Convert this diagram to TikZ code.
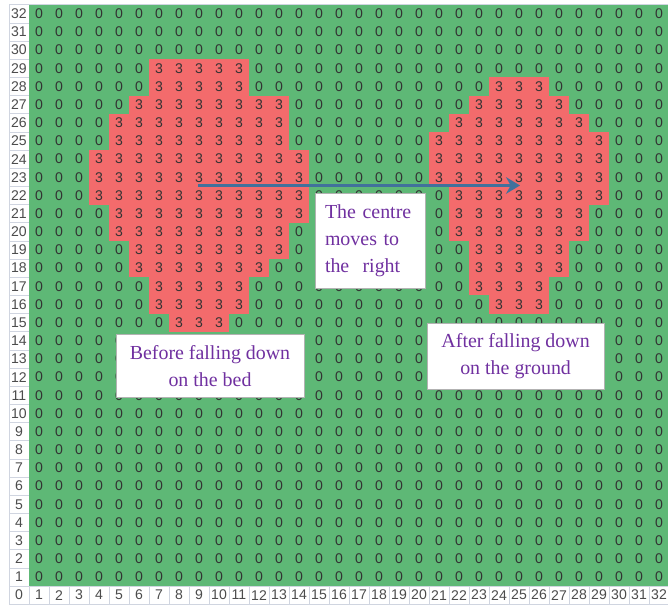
\documentclass[tikz,border=0pt]{standalone}
\usepackage{fontspec}
\setmainfont{Liberation Serif}
\setsansfont{Liberation Sans}
\usepackage{xcolor}
\usepackage{tikz}
\usetikzlibrary{arrows.meta}

\definecolor{cellgreen}{RGB}{94,184,118}
\definecolor{cellred}{RGB}{243,107,108}
\definecolor{gridgrey}{RGB}{208,213,224}
\definecolor{notepurple}{RGB}{112,48,160}
\definecolor{shiftblue}{RGB}{65,113,156}

\begin{document}
\begin{tikzpicture}[
    x=0.6cm, y=0.545cm,
    font=\sffamily,
    value/.style={font=\sffamily\fontsize{12}{12}\selectfont, text=black!80, inner sep=0pt},
    axislabel/.style={value, text=black!70},
    axiscell/.style={draw=gridgrey, fill=white, line width=0.5pt},
    note/.style={draw=black!30, fill=white, line width=0.6pt, text=notepurple,
                 font=\rmfamily\fontsize{17}{23}\selectfont, inner sep=0pt, align=center},
    move/.style={-{Stealth[length=4.2mm, width=5mm, inset=1.4mm]}, line width=2.4pt, shiftblue},
  ]
  \useasboundingbox (-0.45,-0.33) rectangle (32.95,33.26);

  % ---------------- Axis cells ----------------
  \foreach \r in {0,...,32} {
    \draw[axiscell] (0,\r) rectangle (1,\r+1);
    \node[axislabel] (y\r) at (0.5,\r+0.5) {\r};
  }
  \foreach \c in {1,...,32} {
    \draw[axiscell] (\c,0) rectangle (\c+1,1);
    \node[axislabel] (x\c) at (\c+0.5,0.5) {\c};
  }
  \draw[gridgrey, line width=0.5pt] (0,33) -- (33,33);

  % ---------------- Grid values ----------------
  \fill[cellgreen] (1,1) rectangle (33,33);
  \foreach \c in {1,...,32}
    \foreach \r in {1,...,32}
      \node[value] (v-\c-\r) at (\c+0.5,\r+0.5) {0};

  % ---------------- Occupied cells (before / after) ----------------
  \foreach \r/\a/\b in {29/7/11, 28/7/11, 27/6/13, 26/5/13, 25/5/13, 24/4/14, 23/4/14, 22/4/14,
                        21/5/14, 20/5/13, 19/6/13, 18/6/12, 17/7/11, 16/7/11, 15/8/10,
                        28/24/26, 27/23/27, 26/22/28, 25/21/29, 24/21/29, 23/21/29, 22/22/29,
                        21/22/28, 20/22/28, 19/23/27, 18/23/27, 17/23/26, 16/24/26} {
    \fill[cellred] (\a,\r) rectangle (\b+1,\r+1);
    \foreach \c in {\a,...,\b}
      \node[value] (v-\c-\r) at (\c+0.5,\r+0.5) {3};
  }

  % ---------------- Centre shift ----------------
  \coordinate (before) at (9.45,23.05);
  \coordinate (after)  at (25.55,23.05);
  \draw[move] (before) -- (after);

  % ---------------- Notes ----------------
  \node[note, align=left, text width=2.7cm, minimum width=3.3cm, minimum height=2.85cm]
    (shift) at (18.05,20.0) {The centre\\moves to\\the\ \ right};
  \node[note, minimum width=5.64cm, minimum height=1.89cm]
    (bed) at (10.05,13.13) {Before falling down\\on the bed};
  \node[note, minimum width=5.31cm, minimum height=1.98cm]
    (ground) at (25.33,13.65) {After falling down\\on the ground};
\end{tikzpicture}
\end{document}
